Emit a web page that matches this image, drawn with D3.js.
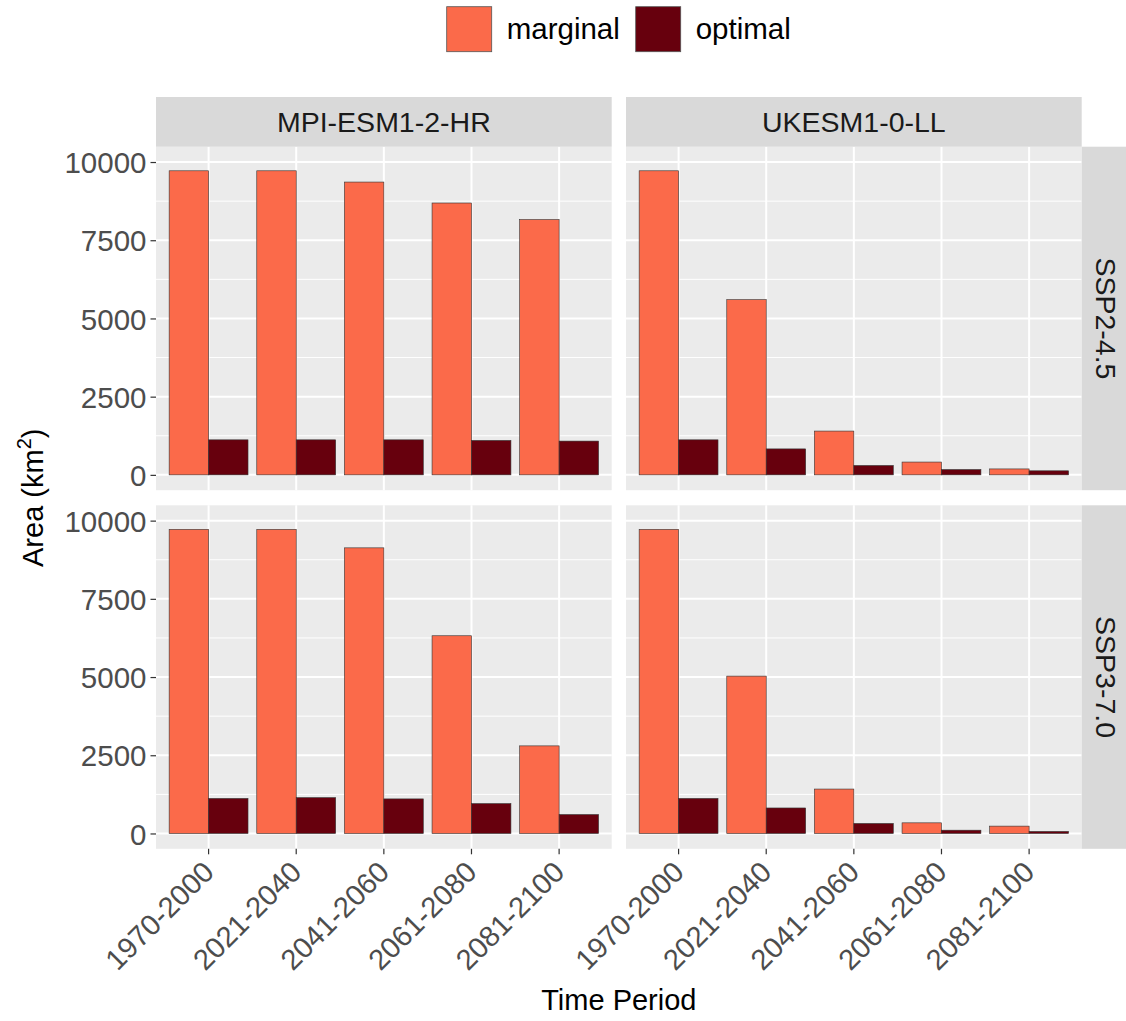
<!DOCTYPE html>
<html>
<head>
<meta charset="utf-8">
<script src="https://cdn.jsdelivr.net/npm/d3@7"></script>
<style>
  body { margin: 0; background: #fff; }
  text { font-family: "Liberation Sans", Arial, sans-serif; }
</style>
</head>
<body>
<div id="chart"></div>
<script>
// categories
const periods = ["1970-2000", "2021-2040", "2041-2060", "2061-2080", "2081-2100"];
const models = ["MPI-ESM1-2-HR", "UKESM1-0-LL"];
const scenarios = ["SSP2-4.5", "SSP3-7.0"];
const types = ["marginal", "optimal"];
const yTicks = [0, 2500, 5000, 7500, 10000];

// values (km2)
const mpi245Marginal = [9720, 9720, 9360, 8690, 8160];
const mpi245Optimal = [1120, 1120, 1120, 1100, 1080];
const ukesm245Marginal = [9720, 5600, 1400, 410, 190];
const ukesm245Optimal = [1120, 830, 300, 170, 130];
const mpi370Marginal = [9720, 9720, 9130, 6320, 2800];
const mpi370Optimal = [1120, 1145, 1105, 955, 605];
const ukesm370Marginal = [9720, 5030, 1420, 340, 235];
const ukesm370Optimal = [1120, 815, 320, 105, 65];

// lookup table built from the arrays: [scenario][model][type]
const table = {
  "SSP2-4.5": {
    "MPI-ESM1-2-HR": {marginal: mpi245Marginal, optimal: mpi245Optimal},
    "UKESM1-0-LL": {marginal: ukesm245Marginal, optimal: ukesm245Optimal}
  },
  "SSP3-7.0": {
    "MPI-ESM1-2-HR": {marginal: mpi370Marginal, optimal: mpi370Optimal},
    "UKESM1-0-LL": {marginal: ukesm370Marginal, optimal: ukesm370Optimal}
  }
};

const color = d3.scaleOrdinal().domain(types).range(["#FB6A4A", "#67000D"]);

// layout
const W = 1126, H = 1021;
const panelW = 455.7, panelH = 343.5;
const panelX = [156, 626];
const panelY = [146.7, 505.3];
const stripH = 49.7, stripW = 50;

const svg = d3.select("#chart").append("svg")
  .attr("width", W)
  .attr("height", H);

// scales (shared by all panels)
const x = d3.scaleBand()
  .domain(periods)
  .range([0, panelW])
  .paddingInner(0.1)
  .paddingOuter(0.15);

const xSub = d3.scaleBand()
  .domain(types)
  .range([0, x.bandwidth()]);

const y = d3.scaleLinear()
  .domain([-490, 10490])
  .range([panelH, 0]);

const minorTicks = [1250, 3750, 6250, 8750];

scenarios.forEach(function(sc, r) {
  models.forEach(function(m, c) {
    const g = svg.append("g")
      .attr("transform", "translate(" + panelX[c] + "," + panelY[r] + ")");

    // panel background
    g.append("rect")
      .attr("width", panelW)
      .attr("height", panelH)
      .attr("fill", "#EBEBEB");

    // minor grid
    g.selectAll(".minor")
      .data(minorTicks).enter()
      .append("line")
      .attr("x1", 0).attr("x2", panelW)
      .attr("y1", d => y(d)).attr("y2", d => y(d))
      .attr("stroke", "#fff")
      .attr("stroke-width", 1);

    // major grid
    g.selectAll(".major")
      .data(yTicks).enter()
      .append("line")
      .attr("x1", 0).attr("x2", panelW)
      .attr("y1", d => y(d)).attr("y2", d => y(d))
      .attr("stroke", "#fff")
      .attr("stroke-width", 2);

    g.selectAll(".vgrid")
      .data(periods).enter()
      .append("line")
      .attr("x1", d => x(d) + x.bandwidth() / 2)
      .attr("x2", d => x(d) + x.bandwidth() / 2)
      .attr("y1", 0).attr("y2", panelH)
      .attr("stroke", "#fff")
      .attr("stroke-width", 2);

    // bars
    const rows = [];
    periods.forEach(function(p, i) {
      types.forEach(function(t) {
        rows.push({period: p, type: t, value: table[sc][m][t][i]});
      });
    });

    g.selectAll(".bar")
      .data(rows).enter()
      .append("rect")
      .attr("x", d => x(d.period) + xSub(d.type))
      .attr("width", xSub.bandwidth())
      .attr("y", d => y(d.value))
      .attr("height", d => y(0) - y(d.value))
      .attr("fill", d => color(d.type))
      .attr("stroke", "#333")
      .attr("stroke-width", 0.6);

    // y axis on left column
    if (c === 0) {
      const ya = g.append("g")
        .call(d3.axisLeft(y).tickValues(yTicks).tickSize(5.5).tickPadding(4).tickFormat(d3.format("d")));
      ya.select(".domain").remove();
      ya.selectAll("line").attr("stroke", "#333").attr("stroke-width", 1.2);
      ya.selectAll("text")
        .attr("fill", "#4D4D4D")
        .style("font-size", "29.5px")
        .attr("dy", "0.36em");
    }

    // x axis on bottom row
    if (r === scenarios.length - 1) {
      const xa = g.append("g")
        .attr("transform", "translate(0," + panelH + ")")
        .call(d3.axisBottom(x).tickSize(5.5).tickSizeOuter(0));
      xa.select(".domain").remove();
      xa.selectAll("line").attr("stroke", "#333").attr("stroke-width", 1.2);
      xa.selectAll("text")
        .attr("fill", "#4D4D4D")
        .style("font-size", "29px")
        .style("text-anchor", "end")
        .attr("y", 0)
        .attr("dy", 0)
        .attr("transform", "translate(7,25) rotate(-45)");
    }

    // top strips
    if (r === 0) {
      svg.append("rect")
        .attr("x", panelX[c]).attr("y", panelY[0] - stripH)
        .attr("width", panelW).attr("height", stripH)
        .attr("fill", "#D9D9D9");
      svg.append("text")
        .attr("x", panelX[c] + panelW / 2)
        .attr("y", panelY[0] - stripH / 2)
        .attr("dy", "0.36em")
        .attr("text-anchor", "middle")
        .attr("fill", "#1A1A1A")
        .style("font-size", "28.5px")
        .text(m);
    }

    // right strips
    if (c === models.length - 1) {
      const sx = panelX[c] + panelW;
      svg.append("rect")
        .attr("x", sx).attr("y", panelY[r])
        .attr("width", stripW).attr("height", panelH)
        .attr("fill", "#D9D9D9");
      svg.append("text")
        .attr("transform", "translate(" + (sx + stripW / 2) + "," + (panelY[r] + panelH / 2) + ") rotate(90)")
        .attr("dy", "0.36em")
        .attr("text-anchor", "middle")
        .attr("fill", "#1A1A1A")
        .style("font-size", "28.5px")
        .text(sc);
    }
  });
});

// axis titles
svg.append("text")
  .attr("x", panelX[0] + (panelX[1] + panelW - panelX[0]) / 2)
  .attr("y", 1010)
  .attr("text-anchor", "middle")
  .attr("fill", "#000")
  .style("font-size", "29px")
  .text("Time Period");

const yt = svg.append("text")
  .attr("transform", "translate(43," + ((panelY[0] + panelY[1] + panelH) / 2) + ") rotate(-90)")
  .attr("text-anchor", "middle")
  .attr("fill", "#000")
  .style("font-size", "29px");
yt.append("tspan").text("Area (km");
yt.append("tspan").attr("dy", "-0.6em").style("font-size", "20px").text("2");
yt.append("tspan").attr("dy", "0.42em").text(")");

// legend
const legendX = [446.7, 635.7];
const legend = svg.selectAll(".legend")
  .data(types).enter()
  .append("g")
  .attr("transform", (d, i) => "translate(" + legendX[i] + ",6.7)");
legend.append("rect")
  .attr("width", 45)
  .attr("height", 45)
  .attr("fill", d => color(d))
  .attr("stroke", "#555")
  .attr("stroke-width", 0.8);
legend.append("text")
  .attr("x", 60)
  .attr("y", 32)
  .attr("fill", "#000")
  .style("font-size", "29.5px")
  .text(d => d);
</script>
</body>
</html>
